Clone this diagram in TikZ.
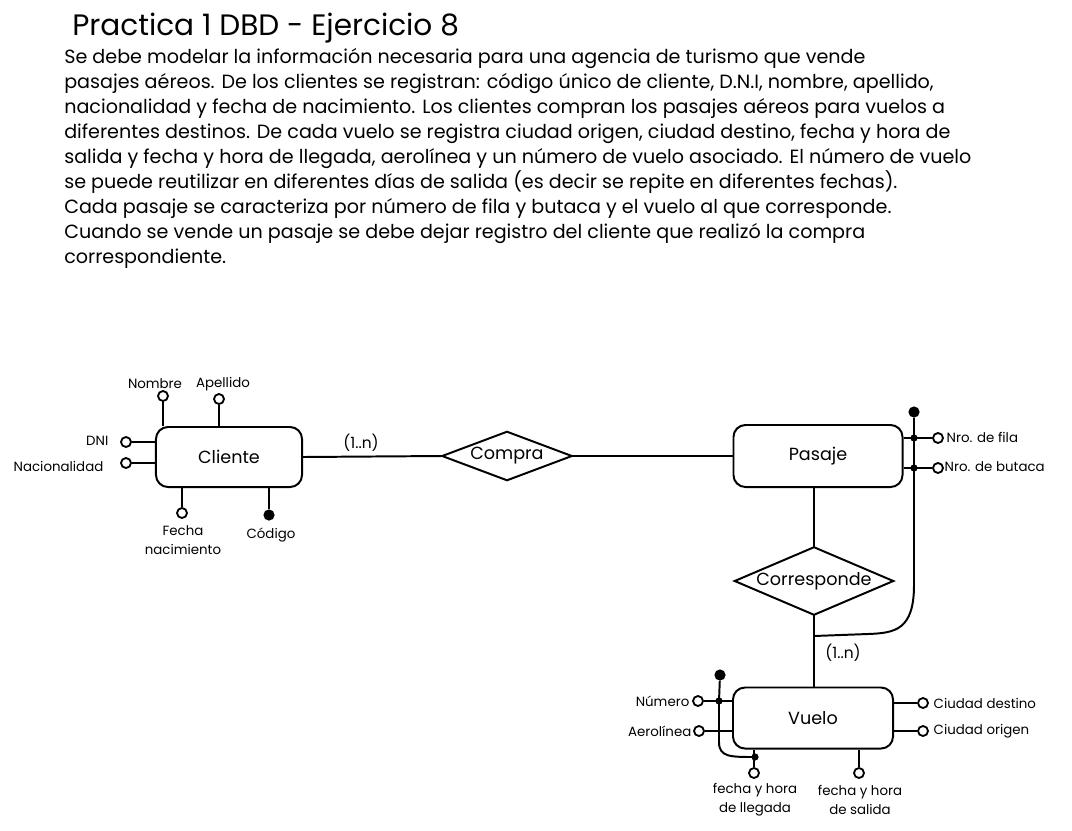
\documentclass[tikz,border=0pt]{standalone}
\usepackage{fontspec}
\setmainfont{Poppins}
\usetikzlibrary{positioning}

\tikzset{
  entity/.style={draw, line width=1.4pt, rounded corners=0.3cm, font=\fontsize{12.5}{14}\selectfont},
  relation/.style={inner sep=0pt, font=\fontsize{12.5}{14}\selectfont},
  attr/.style={circle, draw, line width=1.3pt, fill=white, inner sep=0pt, minimum size=0.25cm},
  keydot/.style={circle, fill=black, inner sep=0pt, minimum size=0.28cm},
  joint/.style={circle, fill=black, inner sep=0pt, minimum size=0.18cm},
  attrlabel/.style={font=\fontsize{9.5}{13.5}\selectfont, inner sep=1pt},
  card/.style={font=\fontsize{11}{12}\selectfont, inner sep=1pt},
  link/.style={line width=1.4pt},
  body/.style={anchor=base west, inner sep=0pt, font=\fontsize{13.6}{17}\selectfont},
}

\begin{document}
\begin{tikzpicture}[x=0.025cm, y=-0.025cm]
    \useasboundingbox (0,0) rectangle (1072,830);

    % Title and statement
    \node[anchor=base west, inner sep=0pt, font=\fontsize{21}{24}\selectfont] (title) at (72,35) {Practica 1 DBD - Ejercicio 8};
    \foreach \txt [count=\i from 0] in {
        {Se debe modelar la información necesaria para una agencia de turismo que vende},
        {pasajes aéreos. De los clientes se registran: código único de cliente, D.N.I, nombre, apellido,},
        {nacionalidad y fecha de nacimiento. Los clientes compran los pasajes aéreos para vuelos a},
        {diferentes destinos. De cada vuelo se registra ciudad origen, ciudad destino, fecha y hora de},
        {salida y fecha y hora de llegada, aerolínea y un número de vuelo asociado. El número de vuelo},
        {se puede reutilizar en diferentes días de salida (es decir se repite en diferentes fechas).},
        {Cada pasaje se caracteriza por número de fila y butaca y el vuelo al que corresponde.},
        {Cuando se vende un pasaje se debe dejar registro del cliente que realizó la compra},
        {correspondiente.}}
        \node[body] (line\i) at (64,{63+25*\i}) {\txt};

    % Entities
    \node[entity, minimum width=3.65cm, minimum height=1.5cm] (cliente) at (229,457) {Cliente};
    \node[entity, minimum width=4.225cm, minimum height=1.55cm] (pasaje) at (818,456) {Pasaje};
    \node[entity, minimum width=4cm, minimum height=1.525cm] (vuelo) at (813,718) {Vuelo};

    % Relations (diamonds drawn on the node anchors)
    \node[relation, minimum width=3.225cm, minimum height=1.2cm] (compra) at (507,456) {Compra};
    \node[relation, minimum width=3.95cm, minimum height=1.675cm] (corresponde) at (814,581) {Corresponde};
    \foreach \rel in {compra,corresponde}
        \draw[link] (\rel.west) -- (\rel.north) -- (\rel.east) -- (\rel.south) -- cycle;

    % Relationship lines
    \draw[link] (cliente.east) -- (compra.west);
    \draw[link] (compra.east) -- (pasaje.west);
    \draw[link] (corresponde.north |- pasaje.south) -- (corresponde.north);
    \draw[link] (corresponde.south) -- (corresponde.south |- vuelo.north);
    \node[card] (card1) at (361,443) {(1..n)};
    \node[card] (card2) at (843,653) {(1..n)};

    % Cliente attributes
    \node[attr] (nombre) at (163,396) {};
    \node[attr] (apellido) at (219,399) {};
    \node[attr] (dni) at (126,442) {};
    \node[attr] (nacionalidad) at (126,463) {};
    \node[attr] (fechanac) at (182,513) {};
    \node[keydot] (codigo) at (269,515) {};
    \draw[link] (nombre) -- (nombre |- cliente.north);
    \draw[link] (apellido) -- (apellido |- cliente.north);
    \draw[link] (dni) -- (dni -| cliente.west);
    \draw[link] (nacionalidad) -- (nacionalidad -| cliente.west);
    \draw[link] (fechanac) -- (fechanac |- cliente.south);
    \draw[link] (codigo) -- (codigo |- cliente.south);
    \node[attrlabel] (nombrelbl) at (155,384) {Nombre};
    \node[attrlabel] (apellidolbl) at (223,384) {Apellido};
    \node[attrlabel, anchor=east] (dnilbl) at (110,441) {DNI};
    \node[attrlabel, anchor=east] (nacionalidadlbl) at (105,466) {Nacionalidad};
    \node[attrlabel, align=center] (fechanaclbl) at (183,540) {Fecha\\nacimiento};
    \node[attrlabel] (codigolbl) at (271,535) {Código};

    % Pasaje attributes and composite key
    \node[keydot] (pkey) at (914,412) {};
    \node[joint] (pfila) at (914,438) {};
    \node[joint] (pbutaca) at (914,468) {};
    \node[attr] (fila) at (938,438) {};
    \node[attr] (butaca) at (938,468) {};
    \coordinate (pjoin) at (814,636);
    \draw[link] (pasaje.east |- fila) -- (fila);
    \draw[link] (pasaje.east |- butaca) -- (butaca);
    \draw[link] (pkey) -- (914,585) .. controls (914,630) and (895,633) .. (868,634) -- (pjoin);
    \node[attrlabel, anchor=west] (filalbl) at (945,437) {Nro. de fila};
    \node[attrlabel, anchor=west] (butacalbl) at (943,467) {Nro. de butaca};

    % Vuelo attributes and composite key
    \node[keydot] (vkey) at (720,675) {};
    \node[joint] (vnum) at (719,701) {};
    \node[joint] (vlleg) at (755,757) {};
    \node[attr] (numero) at (698,701) {};
    \node[attr] (aerolinea) at (699,731) {};
    \node[attr] (llegada) at (754,773) {};
    \node[attr] (salida) at (859,773) {};
    \node[attr] (destino) at (923,703) {};
    \node[attr] (origen) at (923,731) {};
    \draw[link] (numero) -- (numero -| vuelo.west);
    \draw[link] (aerolinea) -- (aerolinea -| vuelo.west);
    \draw[link] (llegada) -- (llegada |- vuelo.south);
    \draw[link] (salida) -- (salida |- vuelo.south);
    \draw[link] (destino) -- (destino -| vuelo.east);
    \draw[link] (origen) -- (origen -| vuelo.east);
    \draw[link] (vkey) -- (vnum.center) -- (719,742) .. controls (719,757) and (730,757) .. (vlleg.center);
    \node[attrlabel, anchor=east] (numerolbl) at (691,701) {Número};
    \node[attrlabel, anchor=east] (aerolinealbl) at (693,731) {Aerolínea};
    \node[attrlabel, align=center] (llegadalbl) at (755,800) {fecha y hora\\de llegada};
    \node[attrlabel, align=center] (salidalbl) at (860,800) {fecha y hora\\de salida};
    \node[attrlabel, anchor=west] (destinolbl) at (932,703) {Ciudad destino};
    \node[attrlabel, anchor=west] (origenlbl) at (932,731) {Ciudad origen};
\end{tikzpicture}
\end{document}
